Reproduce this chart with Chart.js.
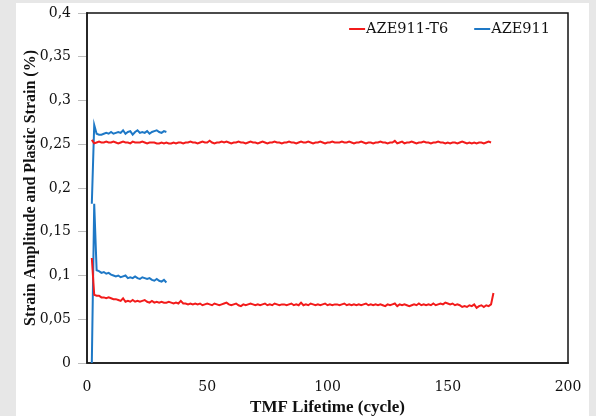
<!DOCTYPE html>
<html>
<head>
<meta charset="utf-8">
<script src="https://cdn.jsdelivr.net/npm/chart.js@4"></script>
<style>
    body { margin: 0; background: #e7e7e7; }
    #wrap { position: absolute; left: 16px; top: 3px; width: 573px; height: 413px; background: #fff; }
</style>
</head>
<body>
<div id="wrap"><canvas id="myChart" width="573" height="413"></canvas></div>
<script>
// first recorded cycle of each test
const firstCycle = 2;

const seriesNames = ["AZE911-T6", "AZE911"];
const seriesColors = ["#f21b1b", "#1e78c6"];

// strain amplitude (%), one value per cycle
const ampT6 = [
    0.255, 0.251, 0.252, 0.253, 0.252, 0.252, 0.253, 0.252, 0.252, 0.253,
    0.252, 0.251, 0.252, 0.253, 0.252, 0.252, 0.251, 0.253, 0.252, 0.252,
    0.252, 0.253, 0.252, 0.251, 0.252, 0.252, 0.252, 0.251, 0.251, 0.252,
    0.251, 0.252, 0.251, 0.251, 0.252, 0.251, 0.252, 0.252, 0.251, 0.252,
    0.252, 0.253, 0.252, 0.252, 0.251, 0.252, 0.253, 0.252, 0.252, 0.254,
    0.252, 0.251, 0.252, 0.252, 0.253, 0.252, 0.253, 0.252, 0.251, 0.252,
    0.252, 0.253, 0.252, 0.252, 0.251, 0.252, 0.253, 0.252, 0.252, 0.251,
    0.252, 0.253, 0.252, 0.251, 0.252, 0.252, 0.253, 0.252, 0.252, 0.251,
    0.252, 0.252, 0.253, 0.252, 0.252, 0.251, 0.252, 0.253, 0.252, 0.252,
    0.253, 0.252, 0.251, 0.252, 0.252, 0.253, 0.252, 0.251, 0.252, 0.252,
    0.253, 0.252, 0.252, 0.252, 0.253, 0.252, 0.252, 0.253, 0.252, 0.251,
    0.252, 0.252, 0.253, 0.252, 0.251, 0.252, 0.252, 0.251, 0.252, 0.252,
    0.253, 0.252, 0.252, 0.251, 0.252, 0.252, 0.254, 0.251, 0.252, 0.253,
    0.251, 0.252, 0.252, 0.253, 0.252, 0.251, 0.252, 0.252, 0.253, 0.252,
    0.252, 0.251, 0.252, 0.252, 0.253, 0.252, 0.252, 0.251, 0.252, 0.251,
    0.252, 0.252, 0.251, 0.252, 0.253, 0.252, 0.251, 0.252, 0.251, 0.252,
    0.251, 0.252, 0.252, 0.251, 0.252, 0.253, 0.252
];
const ampBase = [
    0.182, 0.272, 0.262, 0.261, 0.261, 0.262, 0.263, 0.262, 0.264, 0.262,
    0.263, 0.264, 0.263, 0.266, 0.262, 0.264, 0.265, 0.261, 0.264, 0.266,
    0.263, 0.264, 0.263, 0.265, 0.262, 0.264, 0.265, 0.266, 0.264, 0.263,
    0.265, 0.264
];

// plastic strain (%), one value per cycle
const plT6 = [
    0.120, 0.078, 0.077, 0.077, 0.075, 0.075, 0.074, 0.075, 0.074, 0.073,
    0.073, 0.072, 0.071, 0.074, 0.070, 0.071, 0.070, 0.072, 0.070, 0.071,
    0.070, 0.071, 0.072, 0.070, 0.069, 0.071, 0.069, 0.070, 0.069, 0.070,
    0.069, 0.069, 0.070, 0.069, 0.068, 0.069, 0.068, 0.071, 0.068, 0.068,
    0.067, 0.068, 0.067, 0.068, 0.067, 0.068, 0.066, 0.067, 0.068, 0.067,
    0.066, 0.068, 0.067, 0.066, 0.067, 0.068, 0.069, 0.067, 0.066, 0.067,
    0.068, 0.066, 0.065, 0.067, 0.066, 0.067, 0.068, 0.067, 0.066, 0.067,
    0.066, 0.067, 0.068, 0.066, 0.067, 0.066, 0.068, 0.067, 0.066, 0.067,
    0.067, 0.066, 0.067, 0.068, 0.066, 0.067, 0.066, 0.069, 0.066, 0.067,
    0.066, 0.068, 0.067, 0.066, 0.067, 0.066, 0.067, 0.068, 0.066, 0.067,
    0.066, 0.067, 0.067, 0.066, 0.067, 0.068, 0.066, 0.067, 0.066, 0.067,
    0.066, 0.067, 0.066, 0.067, 0.068, 0.066, 0.067, 0.066, 0.067, 0.066,
    0.067, 0.066, 0.065, 0.067, 0.066, 0.067, 0.068, 0.065, 0.067, 0.066,
    0.067, 0.066, 0.065, 0.066, 0.067, 0.066, 0.068, 0.066, 0.067, 0.066,
    0.067, 0.066, 0.068, 0.066, 0.067, 0.068, 0.067, 0.069, 0.068, 0.067,
    0.068, 0.066, 0.067, 0.066, 0.064, 0.065, 0.064, 0.066, 0.065, 0.067,
    0.063, 0.065, 0.066, 0.064, 0.066, 0.065, 0.067, 0.080
];
const plBase = [
    0.000, 0.182, 0.106, 0.105, 0.103, 0.104, 0.102, 0.103, 0.101, 0.100,
    0.099, 0.100, 0.098, 0.099, 0.100, 0.097, 0.098, 0.097, 0.099, 0.097,
    0.096, 0.098, 0.097, 0.096, 0.097, 0.095, 0.094, 0.096, 0.094, 0.093,
    0.095, 0.092
];

const xTicks = [0, 50, 100, 150, 200];
const yMax = 0.4;
const yStep = 0.05;

function toPoints(values) {
    return values.map((v, i) => ({ x: firstCycle + i, y: v }));
}

function makeSet(label, values, color) {
    return {
        label: label,
        data: toPoints(values),
        borderColor: color,
        backgroundColor: color,
        borderWidth: 2,
        pointRadius: 0,
        tension: 0
    };
}

const serif = "'DejaVu Serif', serif";
const titleFont = "'Liberation Serif', 'Times New Roman', serif";

// black frame on top and right of the plot area
const plotFrame = {
    id: 'plotFrame',
    beforeDatasetsDraw(chart) {
        const a = chart.chartArea;
        const ctx = chart.ctx;
        ctx.save();
        ctx.strokeStyle = '#111';
        ctx.lineWidth = 1.5;
        ctx.strokeRect(a.left, a.top, a.right - a.left, a.bottom - a.top);
        ctx.restore();
    }
};

// legend in the top right corner, short line touching the label
const cornerLegend = {
    id: 'cornerLegend',
    afterDatasetsDraw(chart) {
        const a = chart.chartArea;
        const ctx = chart.ctx;
        ctx.save();
        ctx.font = '14.5px ' + serif;
        ctx.textBaseline = 'middle';
        ctx.textAlign = 'left';
        const y = a.top + 16;
        let right = a.right - 18;
        for (let i = seriesNames.length - 1; i >= 0; i--) {
            const w = ctx.measureText(seriesNames[i]).width;
            const tx = right - w;
            ctx.fillStyle = '#111';
            ctx.fillText(seriesNames[i], tx, y);
            ctx.strokeStyle = seriesColors[i];
            ctx.lineWidth = 2;
            ctx.beginPath();
            ctx.moveTo(tx - 17, y);
            ctx.lineTo(tx - 1, y);
            ctx.stroke();
            right = tx - 17 - 26;
        }
        ctx.restore();
    }
};

new Chart("myChart", {
    type: "line",
    data: {
        datasets: [
            makeSet(seriesNames[0], ampT6, seriesColors[0]),
            makeSet(seriesNames[1], ampBase, seriesColors[1]),
            makeSet(seriesNames[0], plT6, seriesColors[0]),
            makeSet(seriesNames[1], plBase, seriesColors[1])
        ]
    },
    plugins: [plotFrame, cornerLegend],
    options: {
        responsive: false,
        animation: false,
        layout: { padding: { top: 10, right: 21, left: 0, bottom: 0 } },
        plugins: {
            tooltip: { enabled: false },
            legend: { display: false }
        },
        scales: {
            x: {
                type: 'linear',
                min: xTicks[0],
                max: xTicks[xTicks.length - 1],
                afterFit: s => {
                    s.height = 53;
                    s.paddingLeft = 0;
                    s.paddingRight = 0;
                },
                afterBuildTicks: s => { s.ticks = xTicks.map(v => ({ value: v })); },
                grid: { display: false, drawTicks: false },
                border: { display: true, color: '#6e6e6e', width: 2 },
                ticks: { padding: 16, color: '#111', font: { family: serif, size: 14 } },
                title: {
                    display: true,
                    text: 'TMF Lifetime (cycle)',
                    color: '#111',
                    padding: 0,
                    font: { family: titleFont, size: 17, weight: 'bold', lineHeight: 1 }
                }
            },
            y: {
                min: 0,
                max: yMax,
                afterFit: s => {
                    s.width = 71;
                    s.paddingTop = 0;
                    s.paddingBottom = 0;
                },
                grid: { drawOnChartArea: false, drawTicks: true, tickLength: 9, color: '#bdbdbd' },
                border: { display: true, color: '#6e6e6e', width: 2 },
                ticks: {
                    stepSize: yStep,
                    padding: 7,
                    color: '#111',
                    font: { family: serif, size: 14 },
                    callback: v => String(Number(v.toFixed(2))).replace('.', ',')
                },
                title: {
                    display: true,
                    text: 'Strain Amplitude and Plastic Strain (%)',
                    color: '#111',
                    padding: { top: 5, bottom: 0 },
                    font: { family: titleFont, size: 16, weight: 'bold' }
                }
            }
        }
    }
});
</script>
</body>
</html>
